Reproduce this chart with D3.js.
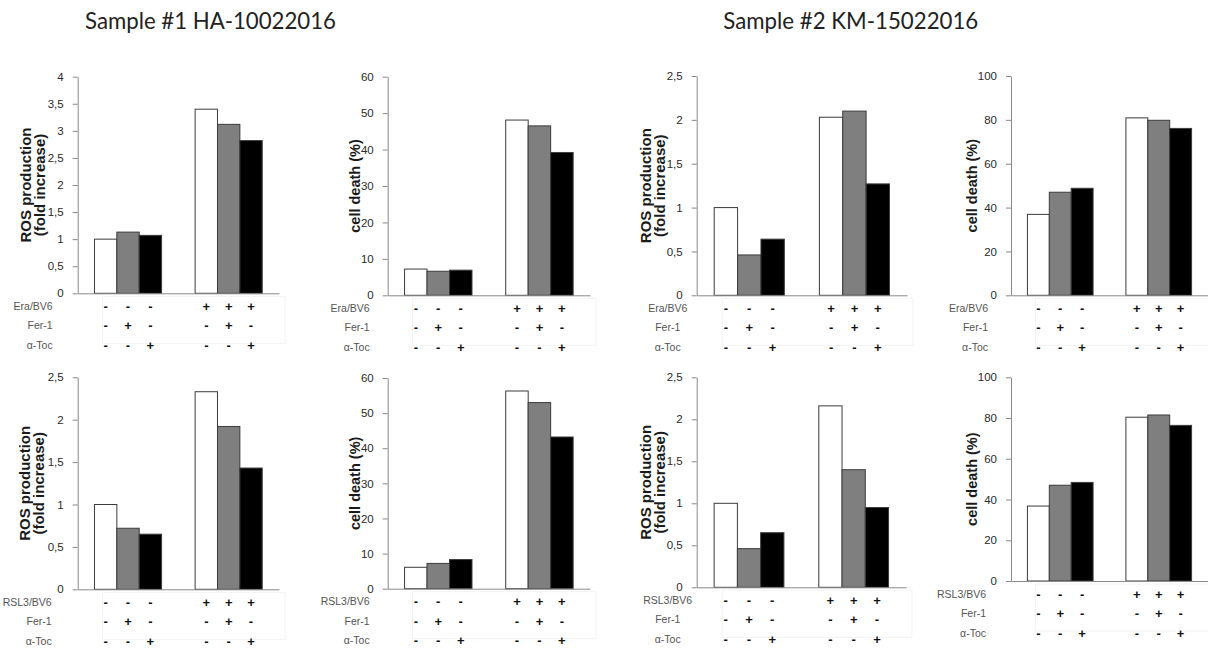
<!DOCTYPE html>
<html>
<head>
<meta charset="utf-8">
<script src="https://cdn.jsdelivr.net/npm/d3@7"></script>
<style>
  body { margin: 0; background: #fff; }
  svg { display: block; }
</style>
</head>
<body>
<svg id="fig" width="1208" height="650"></svg>
<script>
// ---- data ----
const sampleTitles = ["Sample #1 HA-10022016", "Sample #2 KM-15022016"];
const groups = ["without inducer", "with inducer"];
const seriesNames = ["control", "Fer-1", "α-Toc"];
const seriesColors = ["#ffffff", "#7f7f7f", "#000000"];

// treatment table rows under each chart (one entry per bar)
const inducerSigns = ["-", "-", "-", "+", "+", "+"];
const fer1Signs    = ["-", "+", "-", "-", "+", "-"];
const tocSigns     = ["-", "-", "+", "-", "-", "+"];

// y tick labels
const rosTicksTo4   = [0, 0.5, 1, 1.5, 2, 2.5, 3, 3.5, 4];
const rosTicksTo25  = [0, 0.5, 1, 1.5, 2, 2.5];
const deathTicksTo60  = [0, 10, 20, 30, 40, 50, 60];
const deathTicksTo100 = [0, 20, 40, 60, 80, 100];

// bar values: [control, Fer-1, α-Toc] without inducer, then with inducer
const s1EraRos   = [1.00, 1.13, 1.07, 3.40, 3.12, 2.82];
const s1EraDeath = [7.2, 6.6, 6.9, 48.1, 46.5, 39.2];
const s2EraRos   = [1.00, 0.46, 0.64, 2.03, 2.10, 1.27];
const s2EraDeath = [36.9, 47.0, 48.8, 80.9, 79.8, 76.1];
const s1RslRos   = [1.00, 0.72, 0.65, 2.33, 1.92, 1.43];
const s1RslDeath = [6.1, 7.2, 8.3, 56.3, 53.0, 43.2];
const s2RslRos   = [1.00, 0.46, 0.65, 2.16, 1.40, 0.95];
const s2RslDeath = [36.8, 47.0, 48.4, 80.4, 81.5, 76.4];

const rosTitle = ["ROS production", "(fold increase)"];
const deathTitle = ["cell death (%)"];

// ---- panel layout ----
const panels = [
  { ax: 77.7,  top: 76.7,  zero: 293.3, right: 279,  vals: s1EraRos,   ticks: rosTicksTo4,     title: rosTitle,   tdx: [-52, -38.5], inducer: "Era/BV6",  lAnchor: "end",    ldx: -25 },
  { ax: 387.7, top: 76.7,  zero: 295.3, right: 590,  vals: s1EraDeath, ticks: deathTicksTo60,  title: deathTitle, tdx: [-33],        inducer: "Era/BV6",  lAnchor: "end",    ldx: -18 },
  { ax: 696.7, top: 76,    zero: 295.3, right: 907,  vals: s2EraRos,   ticks: rosTicksTo25,    title: rosTitle,   tdx: [-51, -37],   inducer: "Era/BV6",  lAnchor: "middle", ldx: -29 },
  { ax: 1011,  top: 76,    zero: 295.3, right: 1208, vals: s2EraDeath, ticks: deathTicksTo100, title: deathTitle, tdx: [-39],        inducer: "Era/BV6",  lAnchor: "end",    ldx: -23 },
  { ax: 77.7,  top: 377.3, zero: 589.3, right: 279,  vals: s1RslRos,   ticks: rosTicksTo25,    title: rosTitle,   tdx: [-53, -39],   inducer: "RSL3/BV6", lAnchor: "end",    ldx: -26 },
  { ax: 387.7, top: 378,   zero: 588.7, right: 590,  vals: s1RslDeath, ticks: deathTicksTo60,  title: deathTitle, tdx: [-33],        inducer: "RSL3/BV6", lAnchor: "end",    ldx: -18 },
  { ax: 696.7, top: 377.3, zero: 587.3, right: 906,  vals: s2RslRos,   ticks: rosTicksTo25,    title: rosTitle,   tdx: [-51, -37],   inducer: "RSL3/BV6", lAnchor: "middle", ldx: -29 },
  { ax: 1011,  top: 377.3, zero: 581,   right: 1208, vals: s2RslDeath, ticks: deathTicksTo100, title: deathTitle, tdx: [-39],        inducer: "RSL3/BV6", lAnchor: "end",    ldx: -25 }
];

const svg = d3.select("#fig");
const fmt = d => String(d).replace(".", ",");
const font = "'Liberation Sans', Arial, sans-serif";

// sample headings
const titleSpec = [{ x: 85, w: 251 }, { x: 723.3, w: 255 }];
sampleTitles.forEach((t, i) => {
  svg.append("text")
    .attr("x", titleSpec[i].x).attr("y", 28.5)
    .attr("font-family", "Lato, 'Open Sans', sans-serif")
    .attr("font-size", 23)
    .attr("fill", "#222")
    .attr("textLength", titleSpec[i].w)
    .attr("lengthAdjust", "spacingAndGlyphs")
    .text(t);
});

panels.forEach(p => {
  const g = svg.append("g");
  const yMax = p.ticks[p.ticks.length - 1];
  const y = d3.scaleLinear().domain([0, yMax]).range([p.zero, p.top]);
  const x0 = d3.scaleBand().domain(groups).range([p.ax, p.right])
    .paddingInner(1 / 3).paddingOuter(1 / 6);
  const x1 = d3.scaleBand().domain(seriesNames).range([0, x0.bandwidth()]);

  const bars = p.vals.map((v, i) => ({
    v, group: groups[Math.floor(i / 3)], series: seriesNames[i % 3], idx: i
  }));
  const cx = d => x0(d.group) + x1(d.series) + x1.bandwidth() / 2;

  // faint outline of the treatment table
  const tblLeft = x0(groups[0]) + 8;
  g.append("rect")
    .attr("x", tblLeft).attr("y", p.zero + 3)
    .attr("width", p.right + 6 - tblLeft).attr("height", 47)
    .attr("fill", "none").attr("stroke", "#f3f3f3").attr("stroke-width", 1);

  // bars
  g.selectAll("rect.bar").data(bars).join("rect")
    .attr("class", "bar")
    .attr("x", d => x0(d.group) + x1(d.series))
    .attr("y", d => y(d.v))
    .attr("width", x1.bandwidth())
    .attr("height", d => y(0) - y(d.v))
    .attr("fill", d => seriesColors[seriesNames.indexOf(d.series)])
    .attr("stroke", "#3c3c3c")
    .attr("stroke-width", 1);

  // y axis
  const yAxis = g.append("g")
    .attr("transform", `translate(${p.ax},0)`)
    .call(d3.axisLeft(y).tickValues(p.ticks).tickFormat(fmt)
      .tickSize(5).tickPadding(9).tickSizeOuter(0));
  yAxis.select(".domain").attr("stroke", "#8a8a8a");
  yAxis.selectAll(".tick line").attr("stroke", "#8a8a8a");
  yAxis.selectAll(".tick text")
    .attr("font-family", font).attr("font-size", 11.5).attr("fill", "#2a2a2a");

  // x axis baseline
  const xAxis = g.append("g")
    .attr("transform", `translate(0,${p.zero})`)
    .call(d3.axisBottom(x0).tickValues([]).tickSizeOuter(0));
  xAxis.select(".domain").attr("stroke", "#8a8a8a");

  // y axis title
  const midY = (p.top + p.zero) / 2;
  p.title.forEach((line, k) => {
    g.append("text")
      .attr("transform", `translate(${p.ax + p.tdx[k]},${midY}) rotate(-90)`)
      .attr("text-anchor", "middle")
      .attr("dy", "0.36em")
      .attr("font-family", font).attr("font-weight", "bold")
      .attr("font-size", p.title.length > 1 ? 15 : 14.5)
      .attr("fill", "#1a1a1a")
      .text(line);
  });

  // treatment table
  const rows = [
    { label: p.inducer, signs: inducerSigns, dy: 13 },
    { label: "Fer-1", signs: fer1Signs, dy: 32.5 },
    { label: "α-Toc", signs: tocSigns, dy: 52 }
  ];
  rows.forEach(r => {
    g.append("text")
      .attr("x", p.ax + p.ldx).attr("y", p.zero + r.dy)
      .attr("dy", "0.35em")
      .attr("text-anchor", p.lAnchor)
      .attr("font-family", font).attr("font-size", 10.5)
      .attr("fill", "#555")
      .text(r.label);
    g.selectAll(null).data(bars).join("text")
      .attr("x", cx).attr("y", p.zero + r.dy)
      .attr("dy", "0.35em")
      .attr("text-anchor", "middle")
      .attr("font-family", font).attr("font-size", 13).attr("font-weight", "bold")
      .attr("fill", "#111")
      .text(d => r.signs[d.idx]);
  });
});
</script>
</body>
</html>
